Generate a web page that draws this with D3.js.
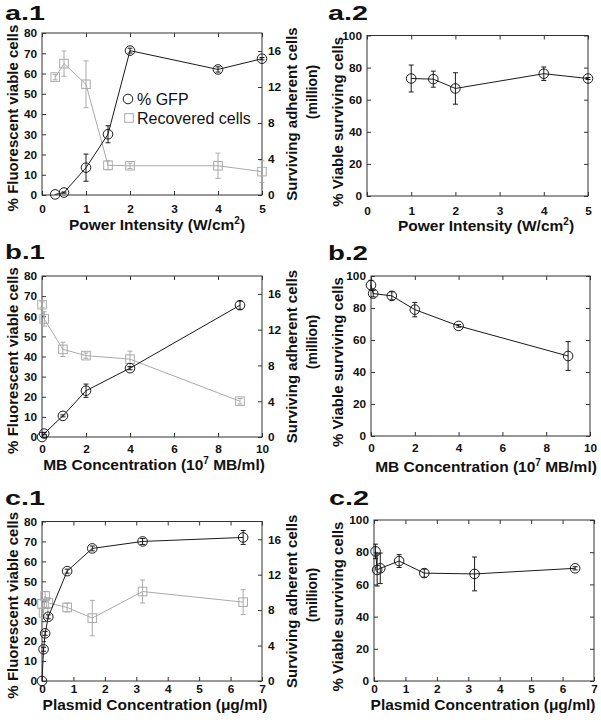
<!DOCTYPE html>
<html>
<head>
<meta charset="utf-8">
<script src="https://cdn.jsdelivr.net/npm/d3@7"></script>
<style>
  body { margin: 0; background: #fff; }
  svg { display: block; font-family: "Liberation Sans", Arial, Helvetica, sans-serif; }
  .tick text { font-size: 11.8px; font-weight: bold; fill: #111; }
  .tick line { stroke: #333; }
</style>
</head>
<body>
<div id="chart"></div>
<script>
// ---- data ----
// a: power intensity
const powerX = [0.3, 0.5, 1, 1.5, 2, 4, 5];
const powerGfp = [0.3, 1.2, 13.5, 30, 71.3, 62, 67.3];
const powerGfpErr = [0, 0.3, 6.7, 4.2, 1.2, 1.3, 0.6];
const powerCells = [13.1, 14.6, 12.3, 3.3, 3.25, 3.25, 2.6];
const powerCellsErr = [0.3, 1.4, 2.6, 0.5, 0.3, 1.4, 1.2];
const powerViaX = [1, 1.5, 2, 4, 5];
const powerVia = [73.2, 72.8, 67, 76.2, 73.2];
const powerViaErr = [8.4, 5, 9.8, 4.2, 0.6];

// b: microbubble concentration
const mbX = [0, 0.1, 0.95, 2, 4, 9];
const mbGfp = [0, 1.7, 10.5, 23, 34.2, 65.5];
const mbGfpErr = [0, 0.6, 0.5, 3.3, 0.8, 2];
const mbCells = [14.8, 13.2, 9.8, 9.1, 8.7, 4.0];
const mbCellsErr = [0.3, 0.8, 0.8, 0.3, 0.9, 0.3];
const mbVia = [94.3, 89, 87.6, 79, 68.8, 50];
const mbViaErr = [3, 2, 2.5, 4.5, 0.8, 9];

// c: plasmid concentration
const plasmidX = [0, 0.05, 0.1, 0.2, 0.8, 1.6, 3.2, 6.4];
const plasmidGfp = [0, 15.9, 23.9, 32.2, 55.1, 66.5, 70, 72];
const plasmidGfpErr = [0, 1, 1, 1, 1, 1.2, 1.5, 3.5];
const plasmidCells = [8.7, 7.7, 9.6, 8.8, 8.3, 7.1, 10.1, 8.9];
const plasmidCellsErr = [0.5, 0.6, 0.5, 0.6, 0.5, 2, 1.3, 1.4];
const plasmidViaX = [0.05, 0.1, 0.2, 0.8, 1.6, 3.2, 6.4];
const plasmidVia = [80.5, 69, 70, 74.5, 67, 66.5, 70];
const plasmidViaErr = [4.5, 10, 9.5, 4, 2.5, 10.5, 1];

// ---- tick values ----
const gfpTicks = d3.range(0, 81, 10);
const cellsTicks = [0, 4, 8, 12, 16];
const viaTicks = d3.range(0, 101, 20);
const powerTicks = [0, 1, 2, 3, 4, 5];
const mbTicks = [0, 2, 4, 6, 8, 10];
const plasmidTicks = [0, 1, 2, 3, 4, 5, 6, 7];

const zip = (xs, ys, es) => xs.map((x, i) => ({x, y: ys[i], e: es[i]}));

const black = "#1a1a1a";
const gray = "#aaaaaa";
const fmt = d3.format("d");

const width = 601;
const height = 722;

const svg = d3.create("svg")
    .attr("width", width)
    .attr("height", height);

// x-axis titles, with a superscript where needed
const powerTitle = ["Power Intensity (W/cm", "2", ")"];
const mbTitle = ["MB Concentration (10", "7", " MB/ml)"];
const plasmidTitle = ["Plasmid Concentration (\u03bcg/ml)", "", ""];

const panels = [
  {name: "a.1", left: 42, right: 262, top: 33, bottom: 195, lx: 5, ly: 20,
   xDomain: [0, 5], xTicks: powerTicks, xPad: 10, title: powerTitle, titleX: 157, titleY: 230,
   dual: true, millionY: 92,
   series: [
     {data: zip(powerX, powerCells, powerCellsErr), axis: "right", color: gray, mark: "square"},
     {data: zip(powerX, powerGfp, powerGfpErr), axis: "left", color: black, mark: "circle"}
   ]},
  {name: "a.2", left: 367, right: 588, top: 35.5, bottom: 196, lx: 328, ly: 20,
   xDomain: [0, 5], xTicks: powerTicks, xPad: 11, title: powerTitle, titleX: 486, titleY: 231,
   dual: false,
   series: [
     {data: zip(powerViaX, powerVia, powerViaErr), axis: "left", color: black, mark: "circle"}
   ]},
  {name: "b.1", left: 42, right: 262, top: 276, bottom: 437, lx: 5, ly: 259,
   xDomain: [0, 10], xTicks: mbTicks, xPad: 8, title: mbTitle, titleX: 154, titleY: 470,
   dual: true, millionY: 342,
   series: [
     {data: zip(mbX, mbCells, mbCellsErr), axis: "right", color: gray, mark: "square"},
     {data: zip(mbX, mbGfp, mbGfpErr), axis: "left", color: black, mark: "circle"}
   ]},
  {name: "b.2", left: 371, right: 590, top: 276, bottom: 436, lx: 328, ly: 260,
   xDomain: [0, 10], xTicks: mbTicks, xPad: 8, title: mbTitle, titleX: 486, titleY: 472,
   dual: false,
   series: [
     {data: zip(mbX, mbVia, mbViaErr), axis: "left", color: black, mark: "circle"}
   ]},
  {name: "c.1", left: 42, right: 262, top: 521.5, bottom: 681, lx: 5, ly: 505,
   xDomain: [0, 7], xTicks: plasmidTicks, xPad: 4, title: plasmidTitle, titleX: 155, titleY: 710,
   dual: true, millionY: 595,
   series: [
     {data: zip(plasmidX, plasmidCells, plasmidCellsErr), axis: "right", color: gray, mark: "square"},
     {data: zip(plasmidX, plasmidGfp, plasmidGfpErr), axis: "left", color: black, mark: "circle"}
   ]},
  {name: "c.2", left: 374, right: 594, top: 520, bottom: 681, lx: 329, ly: 505,
   xDomain: [0, 7], xTicks: plasmidTicks, xPad: 4, title: plasmidTitle, titleX: 483, titleY: 710,
   dual: false,
   series: [
     {data: zip(plasmidViaX, plasmidVia, plasmidViaErr), axis: "left", color: black, mark: "circle"}
   ]}
];

function cleanAxis(g) {
  g.attr("font-size", null).attr("font-family", null);
  g.select(".domain").remove();
}

function drawPanel(p) {
  const g = svg.append("g");

  const x = d3.scaleLinear().domain(p.xDomain).range([p.left, p.right]);
  const yL = d3.scaleLinear().domain(p.dual ? [0, 80] : [0, 100]).range([p.bottom, p.top]);
  const yR = d3.scaleLinear().domain([0, 18]).range([p.bottom, p.top]);

  // bottom axis
  g.append("g")
      .attr("transform", `translate(0,${p.bottom})`)
      .call(d3.axisBottom(x).tickValues(p.xTicks).tickFormat(fmt)
        .tickSizeInner(-4).tickSizeOuter(0).tickPadding(p.xPad))
      .call(cleanAxis);
  // top ticks
  g.append("g")
      .attr("transform", `translate(0,${p.top})`)
      .call(d3.axisTop(x).tickValues(p.xTicks).tickSizeInner(-4).tickSizeOuter(0).tickFormat(""))
      .call(cleanAxis);
  // left axis
  g.append("g")
      .attr("transform", `translate(${p.left},0)`)
      .call(d3.axisLeft(yL).tickValues(p.dual ? gfpTicks : viaTicks).tickFormat(fmt)
        .tickSizeInner(-4).tickSizeOuter(0).tickPadding(5))
      .call(cleanAxis);
  // right axis
  const right = d3.axisRight(p.dual ? yR : yL)
      .tickValues(p.dual ? cellsTicks : viaTicks)
      .tickSizeInner(-4).tickSizeOuter(0).tickPadding(6)
      .tickFormat(p.dual ? fmt : "");
  g.append("g")
      .attr("transform", `translate(${p.right},0)`)
      .call(right)
      .call(cleanAxis);

  // frame
  g.append("rect")
      .attr("x", p.left).attr("y", p.top)
      .attr("width", p.right - p.left).attr("height", p.bottom - p.top)
      .attr("fill", "none").attr("stroke", "#333").attr("stroke-width", 1);

  // series
  for (const s of p.series) {
    const y = s.axis === "right" ? yR : yL;
    const sg = g.append("g").attr("stroke", s.color).attr("fill", "none").attr("stroke-width", 1);

    sg.append("path")
        .datum(s.data)
        .attr("d", d3.line().x(d => x(d.x)).y(d => y(d.y)));

    const eb = sg.selectAll(".err")
        .data(s.data.filter(d => d.e > 0))
        .join("g");
    eb.append("line")
        .attr("x1", d => x(d.x)).attr("x2", d => x(d.x))
        .attr("y1", d => y(d.y - d.e)).attr("y2", d => y(d.y + d.e));
    eb.append("line")
        .attr("x1", d => x(d.x) - 2.5).attr("x2", d => x(d.x) + 2.5)
        .attr("y1", d => y(d.y + d.e)).attr("y2", d => y(d.y + d.e));
    eb.append("line")
        .attr("x1", d => x(d.x) - 2.5).attr("x2", d => x(d.x) + 2.5)
        .attr("y1", d => y(d.y - d.e)).attr("y2", d => y(d.y - d.e));

    if (s.mark === "circle") {
      sg.selectAll("circle")
          .data(s.data)
          .join("circle")
          .attr("cx", d => x(d.x)).attr("cy", d => y(d.y)).attr("r", 4.8);
    } else {
      sg.selectAll("rect")
          .data(s.data)
          .join("rect")
          .attr("x", d => x(d.x) - 4.3).attr("y", d => y(d.y) - 4.3)
          .attr("width", 8.6).attr("height", 8.6);
    }
  }

  // panel letter
  g.append("text")
      .attr("x", p.lx).attr("y", p.ly)
      .attr("font-size", 20).attr("font-weight", "bold")
      .attr("textLength", 40).attr("lengthAdjust", "spacingAndGlyphs")
      .attr("fill", "#111")
      .text(p.name);

  // x title
  const t = g.append("text")
      .attr("x", p.titleX).attr("y", p.titleY)
      .attr("text-anchor", "middle")
      .attr("font-size", 15.5).attr("font-weight", "bold").attr("fill", "#111");
  t.append("tspan").text(p.title[0]);
  if (p.title[1]) {
    t.append("tspan").attr("font-size", 10).attr("dy", -6).text(p.title[1]);
    t.append("tspan").attr("dy", 6).text(p.title[2]);
  }

  // y titles
  const midY = (p.top + p.bottom) / 2;
  if (p.dual) {
    g.append("text")
        .attr("transform", `translate(18,${midY + 4}) rotate(-90)`)
        .attr("text-anchor", "middle")
        .attr("font-size", 15).attr("font-weight", "bold").attr("fill", "#111")
        .text("% Fluorescent viable cells");
    g.append("text")
        .attr("transform", `translate(297,${midY}) rotate(-90)`)
        .attr("text-anchor", "middle")
        .attr("font-size", 15).attr("font-weight", "bold").attr("fill", "#111")
        .text("Surviving adherent cells");
    g.append("text")
        .attr("transform", `translate(317,${p.millionY}) rotate(-90)`)
        .attr("text-anchor", "middle")
        .attr("font-size", 14).attr("font-weight", "bold").attr("fill", "#111")
        .text("(million)");
  } else {
    g.append("text")
        .attr("transform", `translate(343,${midY + 6}) rotate(-90)`)
        .attr("text-anchor", "middle")
        .attr("font-size", 15).attr("font-weight", "bold").attr("fill", "#111")
        .text("% Viable surviving cells");
  }
}

panels.forEach(drawPanel);

// legend in a.1
const leg = svg.append("g").attr("font-size", 16).attr("fill", "#111");
leg.append("circle").attr("cx", 128).attr("cy", 99).attr("r", 4.8)
    .attr("fill", "none").attr("stroke", black);
leg.append("text").attr("x", 137).attr("y", 104.5).text("% GFP");
leg.append("rect").attr("x", 124.7).attr("y", 113.7).attr("width", 8.6).attr("height", 8.6)
    .attr("fill", "none").attr("stroke", gray);
leg.append("text").attr("x", 137).attr("y", 123.5).text("Recovered cells");

d3.select("#chart").append(() => svg.node());
</script>
</body>
</html>
